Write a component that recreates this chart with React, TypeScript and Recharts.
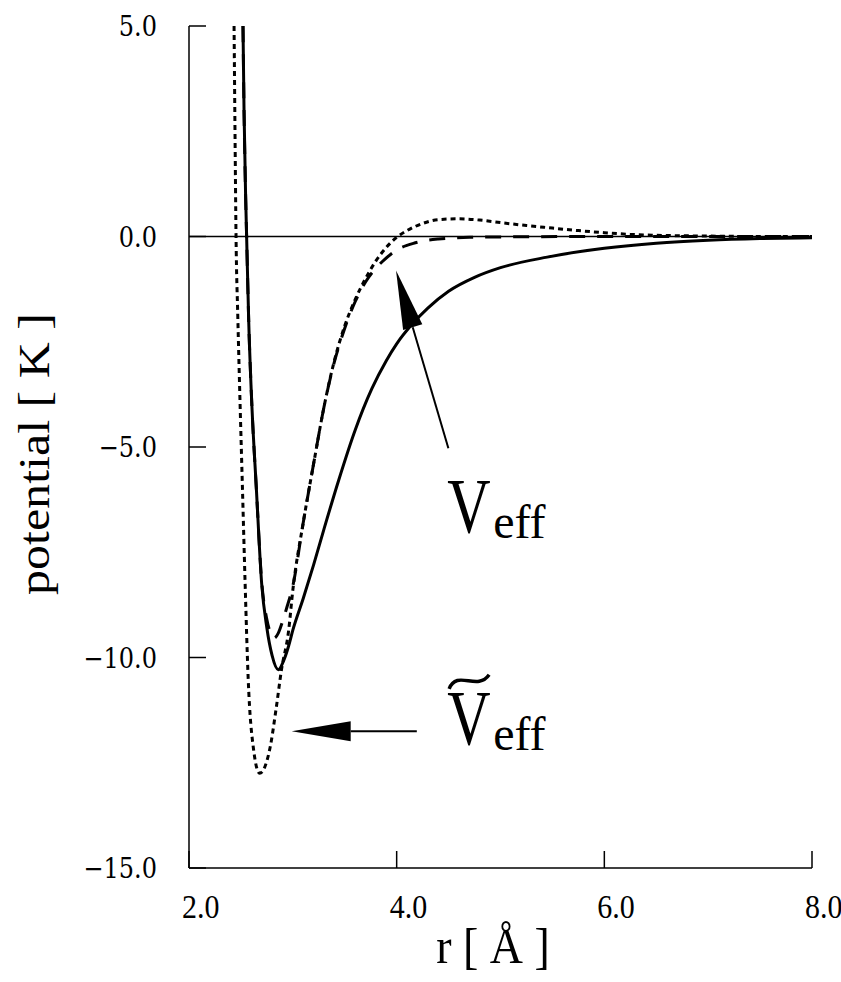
import React from 'react'
import { LineChart, Line, XAxis, YAxis, ReferenceLine, ReferenceDot, Customized } from 'recharts'

const X_TICKS = [2, 4, 6, 8]
const Y_TICKS = [5, 0, -5, -10, -15]

// solid curve
const SOLID_R = [2.52, 2.53, 2.545, 2.555, 2.575, 2.6, 2.65, 2.7, 2.75, 2.8, 2.86, 2.92, 2.96, 3.0, 3.1, 3.2, 3.3, 3.44, 3.6, 3.76, 3.9, 4.0, 4.15, 4.3, 4.5, 4.75, 5.0, 5.45, 6.0, 6.5, 7.0, 7.5, 8.0]
const SOLID_V = [5.0, 3.0, 1.0, 0.0, -2.0, -3.7, -6.05, -8.25, -9.3, -9.95, -10.29, -10.02, -9.72, -9.35, -8.6, -7.8, -6.95, -5.8, -4.6, -3.62, -2.95, -2.55, -2.08, -1.7, -1.3, -0.97, -0.74, -0.49, -0.28, -0.16, -0.09, -0.05, -0.03]

// dashed curve
const DASH_R = [2.52, 2.53, 2.545, 2.555, 2.575, 2.6, 2.65, 2.7, 2.75, 2.79, 2.82, 2.86, 2.9, 2.94, 3.0, 3.1, 3.2, 3.3, 3.4, 3.5, 3.6, 3.7, 3.8, 3.86, 4.0, 4.18, 4.4, 4.7, 5.0, 6.0, 7.0, 8.0]
const DASH_V = [5.0, 3.0, 1.0, 0.0, -2.0, -3.7, -6.05, -8.2, -9.1, -9.45, -9.54, -9.42, -9.15, -8.83, -8.3, -6.8, -5.4, -4.05, -2.98, -2.18, -1.55, -1.08, -0.75, -0.6, -0.32, -0.15, -0.06, -0.02, -0.01, 0, 0, 0]

// dotted curve (V tilde)
const DOT_R = [2.434, 2.443, 2.453, 2.47, 2.49, 2.515, 2.54, 2.57, 2.62, 2.68, 2.73, 2.78, 2.84, 2.89, 2.96, 3.0, 3.1, 3.2, 3.3, 3.4, 3.5, 3.6, 3.7, 3.8, 3.9, 4.0, 4.1, 4.25, 4.4, 4.6, 4.8, 5.0, 5.25, 5.5, 5.75, 6.0, 6.25, 6.5, 7.0, 7.5, 8.0]
const DOT_V = [5.0, 2.5, 0, -1.9, -3.8, -6.0, -8.2, -10.5, -12.15, -12.75, -12.6, -12.15, -11.2, -10.3, -9.35, -8.4, -6.8, -5.4, -4.05, -2.95, -2.12, -1.5, -1.0, -0.58, -0.26, -0.02, 0.14, 0.31, 0.4, 0.42, 0.39, 0.33, 0.26, 0.2, 0.14, 0.09, 0.05, 0.03, 0.01, 0, 0]

// annotations (data coords)
const V_ARROW = [{ x: 4.498, y: -5.03 }, { x: 3.994, y: -0.81 }]
const VT_ARROW = [{ x: 4.194, y: -11.75 }, { x: 2.989, y: -11.75 }]
const V_LABEL = { x: 4.486, y: -7.02 }
const VT_LABEL = { x: 4.486, y: -12.05 }

const W = 841
const H = 982
const PLOT_LEFT = 189
const PLOT_BOTTOM = 868
const TICK_LEN = 17

const toRows = (rs: number[], vs: number[]) => rs.map((r, i) => ({ r, v: vs[i] }))
const solid = toRows(SOLID_R, SOLID_V)
const dashed = toRows(DASH_R, DASH_V)
const dotted = toRows(DOT_R, DOT_V)

const fmt = (v: number) => v.toFixed(1).replace('-', '\u2212')

const YTick = ({ y, payload }: any) => (
  <g>
    <line x1={PLOT_LEFT} x2={PLOT_LEFT + TICK_LEN} y1={y} y2={y} stroke="#000" strokeWidth={1.5} />
    <text
      transform={`translate(157 ${y + 10}) scale(1 1.18)`}
      textAnchor="end"
      fontFamily="DejaVu Serif"
      fontSize={24}
      fill="#000"
    >
      {fmt(payload.value)}
    </text>
  </g>
)

const XTick = ({ x, payload }: any) => (
  <g>
    <line x1={x} x2={x} y1={PLOT_BOTTOM} y2={PLOT_BOTTOM - TICK_LEN} stroke="#000" strokeWidth={1.5} />
    <text
      transform={`translate(${x - 7} 918) scale(1 1.15)`}
      textAnchor="start"
      fontFamily="Liberation Serif"
      fontSize={30}
      fill="#000"
    >
      {fmt(payload.value)}
    </text>
  </g>
)

const Arrow = ({ x1, y1, x2, y2 }: any) => {
  const dx = x2 - x1
  const dy = y2 - y1
  const len = Math.hypot(dx, dy) || 1
  const ux = dx / len
  const uy = dy / len
  const bx = x2 - ux * 59
  const by = y2 - uy * 59
  const px = -uy * 10
  const py = ux * 10
  return (
    <g>
      <line x1={x1} y1={y1} x2={bx} y2={by} stroke="#000" strokeWidth={2} />
      <polygon points={`${x2},${y2} ${bx + px},${by + py} ${bx - px},${by - py}`} fill="#000" />
    </g>
  )
}

const VLabel = ({ cx, cy, tilde }: any) => (
  <g fontFamily="Liberation Serif" fill="#000">
    {tilde && (
      <path
        d={`M ${cx + 2} ${cy - 55} C ${cx + 10} ${cy - 75}, ${cx + 30} ${cy - 52}, ${cx + 42} ${cy - 69}`}
        stroke="#000"
        strokeWidth={3.5}
        fill="none"
      />
    )}
    <text transform={`translate(${cx} ${cy}) scale(1 1.3)`} fontSize={60}>V</text>
    <text x={cx + 46} y={cy + 6} fontSize={48}>eff</text>
  </g>
)

const AxisTitles = () => (
  <g fill="#000" fontFamily="Liberation Serif">
    <text
      transform="translate(49 454) rotate(-90)"
      textAnchor="middle"
      fontSize={44}
      textLength={282}
      lengthAdjust="spacingAndGlyphs"
    >
      potential [ K ]
    </text>
    <text transform="translate(493 963) scale(1 1.12)" textAnchor="middle" fontSize={46}>
      r [ Å ]
    </text>
  </g>
)

export default function App() {
  return (
    <div style={{ position: 'absolute', left: 0, top: 0, width: W, height: H, background: '#fff' }}>
      <LineChart width={W} height={H} margin={{ top: 26, right: 29, left: 0, bottom: 0 }}>
        <XAxis
          type="number"
          dataKey="r"
          domain={[2, 8]}
          ticks={X_TICKS}
          allowDataOverflow
          height={H - PLOT_BOTTOM}
          tickLine={false}
          axisLine={{ stroke: '#000', strokeWidth: 1.5 }}
          tick={<XTick />}
        />
        <YAxis
          type="number"
          domain={[-15, 5]}
          ticks={Y_TICKS}
          allowDataOverflow
          width={PLOT_LEFT}
          tickLine={false}
          axisLine={{ stroke: '#000', strokeWidth: 1.5 }}
          tick={<YTick />}
        />
        <ReferenceLine y={0} stroke="#000" strokeWidth={1.5} />
        <Line data={dotted} dataKey="v" type="monotone" stroke="#000" strokeWidth={3} strokeDasharray="5 4" dot={false} activeDot={false} isAnimationActive={false} />
        <Line data={dashed} dataKey="v" type="monotone" stroke="#000" strokeWidth={3} strokeDasharray="16 12" dot={false} activeDot={false} isAnimationActive={false} />
        <Line data={solid} dataKey="v" type="monotone" stroke="#000" strokeWidth={3} dot={false} activeDot={false} isAnimationActive={false} />
        <ReferenceLine segment={V_ARROW} shape={(p: any) => <Arrow {...p} />} />
        <ReferenceLine segment={VT_ARROW} shape={(p: any) => <Arrow {...p} />} />
        <ReferenceDot x={V_LABEL.x} y={V_LABEL.y} shape={(p: any) => <VLabel cx={p.cx} cy={p.cy} tilde={false} />} />
        <ReferenceDot x={VT_LABEL.x} y={VT_LABEL.y} shape={(p: any) => <VLabel cx={p.cx} cy={p.cy} tilde />} />
        <Customized component={AxisTitles} />
      </LineChart>
    </div>
  )
}
